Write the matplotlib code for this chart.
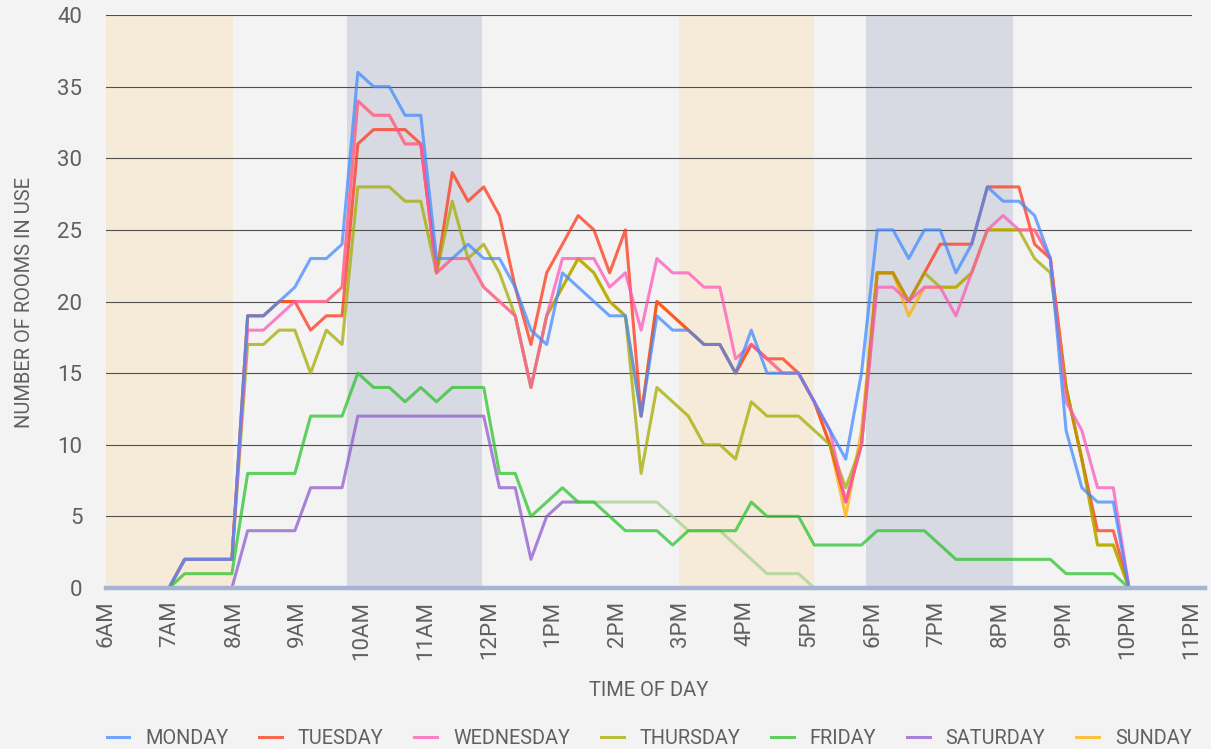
import numpy as np
import matplotlib.pyplot as plt

plt.rcParams['font.family'] = ['Liberation Sans Narrow', 'Roboto', 'DejaVu Sans']

# 15-minute slots, slot 1 = first reading after 6AM
slots = np.arange(1, 66)
n_slots = 69
hour_labels = ['6AM', '7AM', '8AM', '9AM', '10AM', '11AM', '12PM', '1PM', '2PM',
               '3PM', '4PM', '5PM', '6PM', '7PM', '8PM', '9PM', '10PM', '11PM']

monday = [0, 0, 0, 0, 2, 2, 2, 2,
          19, 19, 20, 21, 23, 23, 24,
          36, 35, 35, 33, 33,
          23, 23, 24, 23, 23,
          21, 18, 17, 22, 21,
          20, 19, 19, 12, 19,
          18, 18, 17, 17, 15,
          18, 15, 15, 15, 13,
          11, 9, 15, 25, 25,
          23, 25, 25, 22, 24,
          28, 27, 27, 26, 23,
          11, 7, 6, 6, 0]
tuesday = [0, 0, 0, 0, 2, 2, 2, 2,
           19, 19, 20, 20, 18, 19, 19,
           31, 32, 32, 32, 31,
           22, 29, 27, 28, 26,
           21, 17, 22, 24, 26,
           25, 22, 25, 12, 20,
           19, 18, 17, 17, 15,
           17, 16, 16, 15, 13,
           10, 6, 10, 22, 22,
           20, 22, 24, 24, 24,
           28, 28, 28, 24, 23,
           14, 9, 4, 4, 0]
wednesday = [0, 0, 0, 0, 2, 2, 2, 2,
             18, 18, 19, 20, 20, 20, 21,
             34, 33, 33, 31, 31,
             22, 23, 23, 21, 20,
             19, 14, 19, 23, 23,
             23, 21, 22, 18, 23,
             22, 22, 21, 21, 16,
             17, 16, 15, 15, 13,
             11, 6, 10, 21, 21,
             20, 21, 21, 19, 22,
             25, 26, 25, 25, 23,
             13, 11, 7, 7, 0]
thursday = [0, 0, 0, 0, 2, 2, 2, 2,
            17, 17, 18, 18, 15, 18, 17,
            28, 28, 28, 27, 27,
            22, 27, 23, 24, 22,
            19, 14, 19, 21, 23,
            22, 20, 19, 8, 14,
            13, 12, 10, 10, 9,
            13, 12, 12, 12, 11,
            10, 7, 10, 22, 22,
            20, 22, 21, 21, 22,
            25, 25, 25, 23, 22,
            14, 9, 3, 3, 0]
friday = [0, 0, 0, 0, 1, 1, 1, 1,
          8, 8, 8, 8, 12, 12, 12,
          15, 14, 14, 13, 14,
          13, 14, 14, 14, 8,
          8, 5, 6, 7, 6,
          6, 5, 4, 4, 4,
          3, 4, 4, 4, 4,
          6, 5, 5, 5, 3,
          3, 3, 3, 4, 4,
          4, 4, 3, 2, 2,
          2, 2, 2, 2, 2,
          1, 1, 1, 1, 0]
saturday = [0, 0, 0, 0, 0, 0, 0, 0,
            4, 4, 4, 4, 7, 7, 7,
            12, 12, 12, 12, 12,
            12, 12, 12, 12, 7,
            7, 2, 5, 6, 6,
            6, 6, 6, 6, 6,
            5, 4, 4, 4, 3,
            2, 1, 1, 1, 0,
            0, 0, 0, 0, 0,
            0, 0, 0, 0, 0,
            0, 0, 0, 0, 0,
            0, 0, 0, 0, 0]
sunday = [0, 0, 0, 0, 2, 2, 2, 2,
          19, 19, 20, 20, 20, 20, 21,
          34, 33, 33, 31, 31,
          22, 23, 23, 21, 20,
          19, 14, 19, 21, 23,
          22, 20, 19, 12, 20,
          19, 18, 17, 17, 15,
          17, 16, 15, 15, 13,
          10, 5, 11, 22, 22,
          19, 21, 21, 21, 22,
          25, 25, 25, 25, 23,
          14, 9, 3, 3, 0]

days = ['MONDAY', 'TUESDAY', 'WEDNESDAY', 'THURSDAY', 'FRIDAY', 'SATURDAY', 'SUNDAY']
series = [monday, tuesday, wednesday, thursday, friday, saturday, sunday]
colors = ['#438bff', '#ff3719', '#ff59b9', '#a4ac00', '#2dc32d', '#905ccf', '#ffaf00']
order = [6, 1, 3, 2, 0, 5, 4]  # draw sunday underneath

# shaded periods, in slot units
bands = [(0, 8.07, '#f5ebd8'), (15.3, 23.9, '#d7dae3'),
         (36.4, 45.0, '#f5ebd8'), (48.3, 57.6, '#d7dae3')]

bg = '#f3f3f3'
txt = '#606060'
fig = plt.figure(figsize=(12.11, 7.49), dpi=100, facecolor=bg)
ax = fig.add_axes([106/1211, 1-588/749, 1086/1211, 573/749])
ax.set_facecolor(bg)

for a, b, c in bands:
    ax.axvspan(a, b, color=c, lw=0, zorder=0)

lines = {}
for z, i in enumerate(order):
    y = np.array(series[i])
    if i == 5:
        # saturday afternoon readings shown in a pale tone
        ln, = ax.plot(slots[:30], y[:30], color=colors[i], lw=2.2, alpha=0.75, zorder=2+z*0.1)
        ax.plot(slots[29:], y[29:], color='#a9d18f', lw=2.2, alpha=0.75, zorder=2+z*0.1)
    else:
        ln, = ax.plot(slots, y, color=colors[i], lw=2.2, alpha=0.75, zorder=2+z*0.1)
    lines[i] = ln

# baseline along zero
ax.axhline(0, xmin=0, xmax=1.012, color='#a5b4d2', lw=3.2, zorder=4, clip_on=False)

ax.set_xlim(0, n_slots)
ax.set_ylim(0, 40)
ax.set_yticks(range(0, 41, 5))
ax.set_xticks(np.linspace(0, n_slots, len(hour_labels)))
ax.set_xticklabels(hour_labels, rotation=90)
ax.yaxis.grid(True, color='#4f4f4f', lw=0.8)
ax.set_axisbelow(True)
for s in ax.spines.values():
    s.set_visible(False)
ax.tick_params(axis='both', length=0, colors=txt)
ax.tick_params(axis='x', labelsize=16, pad=9)
ax.tick_params(axis='y', labelsize=16, pad=17)

fig.text(25/1211, 1-303/749, 'NUMBER OF ROOMS IN USE', rotation=90, ha='center', va='center',
         fontsize=14.5, color=txt)
fig.text(649/1211, 1-690/749, 'TIME OF DAY', ha='center', va='center', fontsize=14.5, color=txt)

leg = ax.legend([lines[i] for i in range(7)], days, loc='center', bbox_to_anchor=(0.5, -150/573),
                ncol=7, frameon=False, fontsize=14.3, handlelength=1.15, handletextpad=0.8,
                columnspacing=1.55)
for t in leg.get_texts():
    t.set_color(txt)
for h in leg.legend_handles:
    h.set_alpha(0.75)

fig.savefig('out.png', dpi=100, facecolor=bg)
